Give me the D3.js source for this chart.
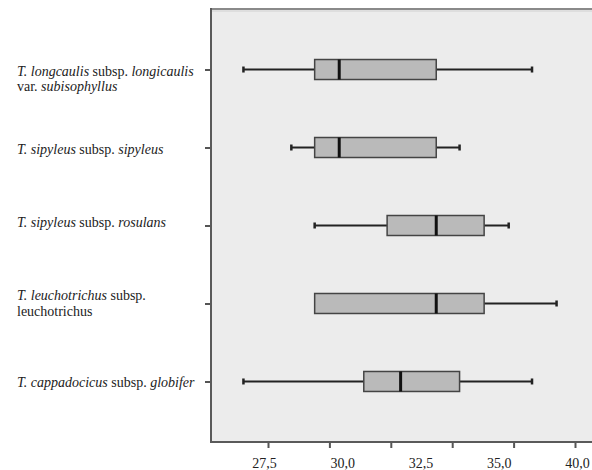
<!DOCTYPE html>
<html>
<head>
<meta charset="utf-8">
<script src="https://cdn.jsdelivr.net/npm/d3@7"></script>
<style>
  body { margin: 0; background: #fff; }
  svg text { font-family: "Liberation Serif", "DejaVu Serif", serif; }
</style>
</head>
<body>
<svg id="chart"></svg>
<script>
// one entry per taxon, top to bottom
const categories = ["longicaulis", "sipyleus", "rosulans", "leuchotrichus", "globifer"];
const labelLines = [
    [[["T. longcaulis", true], [" subsp. ", false], ["longicaulis", true]], [["var. ", false], ["subisophyllus", true]]],
    [[["T. sipyleus", true], [" subsp. ", false], ["sipyleus", true]]],
    [[["T. sipyleus", true], [" subsp. ", false], ["rosulans", true]]],
    [[["T. leuchotrichus", true], [" subsp.", false]], [["leuchotrichus", false]]],
    [[["T. cappadocicus", true], [" subsp. ", false], ["globifer", true]]]
];
const minValues    = [26.5, 28.45, 29.4, 29.4, 26.5];
const q1Values     = [29.4, 29.4, 32.35, 29.4, 31.4];
const medianValues = [30.4, 30.4, 34.35, 34.35, 32.9];
const q3Values     = [34.35, 34.35, 36.3, 36.3, 35.3];
const maxValues    = [38.25, 35.3, 37.3, 39.25, 38.25];
const tickValues = [27.5, 30, 32.5, 35, 37.5, 40];
const tickLabels = ["27,5", "30,0", "32,5", "35,0", "40,0"];

const W = 592, H = 470;
const plot = {left: 211, top: 9, right: 604, bottom: 442};
const serif = "'Liberation Serif', 'DejaVu Serif', serif";

const svg = d3.select("#chart").attr("width", W).attr("height", H);

const x = d3.scaleLinear().domain([27.5, 40]).range([268, 575]);
const y = d3.scalePoint().domain(categories).range([plot.top, plot.bottom]).padding(0.776);
// the printed labels do not sit on the tick marks in the original
const labelScale = d3.scalePoint().domain(tickLabels).range([264, 577]);

const data = categories.map((c, i) => ({
    key: c, lines: labelLines[i],
    min: minValues[i], q1: q1Values[i], median: medianValues[i], q3: q3Values[i], max: maxValues[i]
}));

// plot background + frame
svg.append("rect")
    .attr("x", plot.left).attr("y", plot.top)
    .attr("width", plot.right - plot.left).attr("height", plot.bottom - plot.top)
    .attr("fill", "#ececec");
svg.append("line")
    .attr("x1", plot.left).attr("x2", plot.right).attr("y1", plot.top).attr("y2", plot.top)
    .attr("stroke", "#8a8a8a").attr("stroke-width", 2);
svg.append("line")
    .attr("x1", plot.left).attr("x2", plot.right).attr("y1", plot.top + 2).attr("y2", plot.top + 2)
    .attr("stroke", "#d0d0d0").attr("stroke-width", 1);

// axes
const xAxis = svg.append("g")
    .attr("transform", `translate(0, ${plot.bottom})`)
    .call(d3.axisBottom(x).tickValues(tickValues).tickFormat("").tickSizeInner(6).tickSizeOuter(0));
xAxis.select(".domain").remove();
xAxis.selectAll("line").attr("stroke", "#555").attr("stroke-width", 2);

const xLabels = svg.append("g")
    .attr("transform", `translate(0, ${plot.bottom})`)
    .call(d3.axisBottom(labelScale).tickSize(0).tickPadding(16));
xLabels.attr("font-family", serif).attr("font-size", 14);
xLabels.select(".domain").remove();
xLabels.selectAll("text").attr("fill", "#222");

const yAxis = svg.append("g")
    .attr("transform", `translate(${plot.left}, 0)`)
    .call(d3.axisLeft(y).tickFormat("").tickSizeInner(6).tickSizeOuter(0));
yAxis.select(".domain").remove();
yAxis.selectAll("line").attr("stroke", "#555").attr("stroke-width", 2);

svg.append("line")
    .attr("x1", plot.left).attr("x2", plot.left).attr("y1", plot.top - 1).attr("y2", plot.bottom + 1)
    .attr("stroke", "#5a5a5a").attr("stroke-width", 2);
svg.append("line")
    .attr("x1", plot.left - 1).attr("x2", plot.right).attr("y1", plot.bottom).attr("y2", plot.bottom)
    .attr("stroke", "#5a5a5a").attr("stroke-width", 2);

// boxes
const boxH = 20, capH = 6;
const g = svg.selectAll("g.box").data(data).enter().append("g").attr("class", "box");

g.filter(d => d.min < d.q1).append("line")
    .attr("x1", d => x(d.min)).attr("x2", d => x(d.q1))
    .attr("y1", d => y(d.key)).attr("y2", d => y(d.key))
    .attr("stroke", "#222").attr("stroke-width", 2);
g.append("line")
    .attr("x1", d => x(d.q3)).attr("x2", d => x(d.max))
    .attr("y1", d => y(d.key)).attr("y2", d => y(d.key))
    .attr("stroke", "#222").attr("stroke-width", 2);
// whisker caps
g.selectAll("line.cap")
    .data(d => (d.min < d.q1 ? [d.min, d.max] : [d.max]).map(v => ({v, key: d.key})))
    .enter().append("line").attr("class", "cap")
    .attr("x1", d => x(d.v)).attr("x2", d => x(d.v))
    .attr("y1", d => y(d.key) - capH / 2).attr("y2", d => y(d.key) + capH / 2)
    .attr("stroke", "#222").attr("stroke-width", 2.5);

g.append("rect")
    .attr("x", d => x(d.q1)).attr("y", d => y(d.key) - boxH / 2)
    .attr("width", d => x(d.q3) - x(d.q1)).attr("height", boxH)
    .attr("fill", "#bababa").attr("stroke", "#444").attr("stroke-width", 1.5);
g.append("line")
    .attr("x1", d => x(d.median)).attr("x2", d => x(d.median))
    .attr("y1", d => y(d.key) - boxH / 2).attr("y2", d => y(d.key) + boxH / 2)
    .attr("stroke", "#111").attr("stroke-width", 3);

// category labels
const labelDy = [3, 3, -2, -6, 3];
const labelG = svg.append("g")
    .attr("font-family", serif).attr("font-size", 14).attr("fill", "#222");
data.forEach((d, i) => {
    d.lines.forEach((line, j) => {
        const t = labelG.append("text")
            .attr("x", 17)
            .attr("y", y(d.key) + labelDy[i] + j * 15.5)
            .attr("dominant-baseline", "middle");
        line.forEach(([txt, it]) => {
            t.append("tspan").attr("font-style", it ? "italic" : "normal").text(txt);
        });
    });
});
</script>
</body>
</html>
